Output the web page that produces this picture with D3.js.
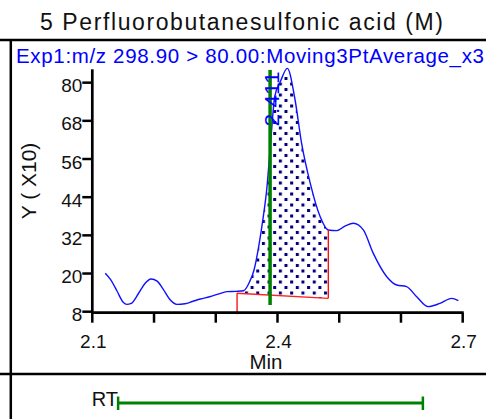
<!DOCTYPE html>
<html>
<head>
<meta charset="utf-8">
<script src="https://cdn.jsdelivr.net/npm/d3@7"></script>
<style>
  html, body { margin: 0; padding: 0; background: #fff; }
  svg { display: block; }
  text { font-family: "Liberation Sans", Arial, sans-serif; }
</style>
</head>
<body>
<svg id="chart" width="486" height="419"></svg>
<script>
// ---- data ----
const titleText = "5 Perfluorobutanesulfonic acid (M)";
const traceLabel = "Exp1:m/z 298.90 > 80.00:Moving3PtAverage_x3";
const yAxisTitle = "Y ( X10)";
const xAxisTitle = "Min";
const yTicks = [8, 20, 32, 44, 56, 68, 80];
const xTicks = [2.1, 2.2, 2.3, 2.4, 2.5, 2.6, 2.7];
const xTickLabels = ["2.1", "", "", "2.4", "", "", "2.7"];
const times = [2.121, 2.13, 2.14, 2.15, 2.156, 2.163, 2.175, 2.185, 2.195, 2.205,
  2.215, 2.225, 2.237, 2.25, 2.262, 2.275, 2.29, 2.305, 2.318, 2.333,
  2.345, 2.355, 2.362, 2.37, 2.377, 2.3825, 2.39, 2.3955, 2.405, 2.416,
  2.428, 2.439, 2.453, 2.469, 2.482, 2.496, 2.51, 2.523, 2.539, 2.555,
  2.577, 2.593, 2.609, 2.6255, 2.644, 2.663, 2.682, 2.693];
const intensity = [20.1, 18.0, 14.5, 11.0, 10.3, 10.6, 13.8, 16.8, 18.3, 17.6,
  15.0, 12.0, 10.3, 10.5, 11.2, 12.0, 12.7, 13.6, 14.3, 14.4,
  14.6, 17.5, 21.1, 29.0, 37.9, 46.3, 64.1, 75.6, 80.5, 84.5,
  75.1, 61.0, 48.4, 37.9, 33.7, 33.5, 35.0, 35.8, 33.7, 26.4,
  19.0, 16.4, 15.9, 12.7, 9.6, 10.6, 12.2, 11.5];
const peakStart = 2.3345, peakEnd = 2.4823;
const baselineValues = [13.8, 12.2];
const rtMarker = 2.388;
const rtMarkerLabel = "2.411";
const rtMarkerRange = [10.1, 84.0];
const rtWindow = [2.1418, 2.6355];
const rtLabel = "RT";

// ---- layout ----
const svg = d3.select("#chart");
const x = d3.scaleLinear().domain([2.1, 2.7]).range([92.3, 462.7]);
const y = d3.scaleLinear().domain([8, 84.2]).range([311.7, 69.3]);

// frame
svg.append("line").attr("x1", 0).attr("x2", 486).attr("y1", 40).attr("y2", 40)
  .attr("stroke", "#000").attr("stroke-width", 2.5);
svg.append("line").attr("x1", 0).attr("x2", 486).attr("y1", 374).attr("y2", 374)
  .attr("stroke", "#000").attr("stroke-width", 2.5);
svg.append("line").attr("x1", 10.8).attr("x2", 10.8).attr("y1", 39).attr("y2", 419)
  .attr("stroke", "#000").attr("stroke-width", 2.5);

// title
svg.append("text").attr("x", 40).attr("y", 29.5).attr("font-size", 23)
  .attr("textLength", 403).attr("lengthAdjust", "spacing")
  .attr("fill", "#111").text(titleText);
svg.append("text").attr("x", 16).attr("y", 63.3).attr("font-size", 20.5)
  .attr("textLength", 468).attr("lengthAdjust", "spacing")
  .attr("fill", "#0000ff").text(traceLabel);

// peak fill pattern
const defs = svg.append("defs");
const pat = defs.append("pattern").attr("id", "dots").attr("patternUnits", "userSpaceOnUse")
  .attr("width", 11.3).attr("height", 11).attr("x", 2).attr("y", 0);
pat.append("rect").attr("width", 11.3).attr("height", 11).attr("fill", "#fff");
pat.append("rect").attr("x", 0).attr("y", 0).attr("width", 3).attr("height", 3).attr("fill", "#000080");
pat.append("rect").attr("x", 5.65).attr("y", 5.5).attr("width", 3).attr("height", 3).attr("fill", "#000080");

const pts = times.map((t, i) => ({ t, v: intensity[i] }));
function interp(t) {
  for (let i = 0; i < pts.length - 1; i++) {
    if (t >= pts[i].t && t <= pts[i + 1].t) {
      const f = (t - pts[i].t) / (pts[i + 1].t - pts[i].t);
      return pts[i].v + f * (pts[i + 1].v - pts[i].v);
    }
  }
  return pts[pts.length - 1].v;
}
const baseAt = t => baselineValues[0] + (t - peakStart) / (peakEnd - peakStart) * (baselineValues[1] - baselineValues[0]);
const peakPts = [{ t: peakStart, v: interp(peakStart) }]
  .concat(pts.filter(p => p.t > peakStart && p.t < peakEnd))
  .concat([{ t: peakEnd, v: interp(peakEnd) }]);

svg.append("path").datum(peakPts)
  .attr("d", d3.area().x(d => x(d.t)).y0(d => y(Math.min(baseAt(d.t), d.v))).y1(d => y(d.v)).curve(d3.curveMonotoneX))
  .attr("fill", "url(#dots)");

// trace line
svg.append("path").datum(pts)
  .attr("d", d3.line().x(d => x(d.t)).y(d => y(d.v)).curve(d3.curveMonotoneX))
  .attr("fill", "none").attr("stroke", "#1010ff").attr("stroke-width", 1.4);

// baseline (red)
svg.append("line").attr("x1", x(peakStart)).attr("x2", x(peakEnd))
  .attr("y1", y(baselineValues[0])).attr("y2", y(baselineValues[1]))
  .attr("stroke", "#ff2020").attr("stroke-width", 1.3);
svg.append("line").attr("x1", x(peakStart)).attr("x2", x(peakStart))
  .attr("y1", y(baselineValues[0])).attr("y2", y(8) + 2.5)
  .attr("stroke", "#ff0000").attr("stroke-width", 1.3);
svg.append("line").attr("x1", x(peakEnd)).attr("x2", x(peakEnd))
  .attr("y1", y(baselineValues[1])).attr("y2", y(interp(peakEnd)))
  .attr("stroke", "#ff0000").attr("stroke-width", 1.3);

// RT marker
svg.append("line").attr("x1", x(rtMarker)).attr("x2", x(rtMarker))
  .attr("y1", y(rtMarkerRange[1])).attr("y2", y(rtMarkerRange[0]))
  .attr("stroke", "#008000").attr("stroke-width", 3.5);
svg.append("text").attr("transform", `translate(${x(rtMarker) + 8.5},126.5) rotate(-90)`)
  .attr("font-size", 20).attr("textLength", 55).attr("lengthAdjust", "spacingAndGlyphs")
  .attr("fill", "#0000ff").text(rtMarkerLabel);

// axes
const yAxisG = svg.append("g");
yAxisG.append("line").attr("x1", x(2.1)).attr("x2", x(2.1)).attr("y1", y.range()[1]).attr("y2", y(8) + 1)
  .attr("stroke", "#000").attr("stroke-width", 2.7);
yTicks.forEach(v => {
  yAxisG.append("line").attr("x1", x(2.1) - 10).attr("x2", x(2.1)).attr("y1", y(v)).attr("y2", y(v))
    .attr("stroke", "#000").attr("stroke-width", 2.5);
  yAxisG.append("text").attr("x", x(2.1) - 10).attr("y", y(v) + 9.5).attr("text-anchor", "end")
    .attr("font-size", 19).attr("fill", "#111").text(v);
});
const xAxisG = svg.append("g");
xAxisG.append("line").attr("x1", x(2.1) - 1).attr("x2", x(2.7) + 1).attr("y1", y(8) + 1).attr("y2", y(8) + 1)
  .attr("stroke", "#000").attr("stroke-width", 2.7);
xTicks.forEach((t, i) => {
  xAxisG.append("line").attr("x1", x(t)).attr("x2", x(t)).attr("y1", y(8) + 1).attr("y2", y(8) + 11)
    .attr("stroke", "#000").attr("stroke-width", 2.5);
  if (xTickLabels[i]) xAxisG.append("text").attr("x", x(t) + 1).attr("y", 348).attr("text-anchor", "middle")
    .attr("font-size", 19).attr("fill", "#111").text(xTickLabels[i]);
});
svg.append("text").attr("x", 266).attr("y", 369).attr("text-anchor", "middle")
  .attr("font-size", 20.5).attr("fill", "#111").text(xAxisTitle);
svg.append("text").attr("transform", "translate(36,181) rotate(-90)").attr("text-anchor", "middle")
  .attr("font-size", 21).attr("fill", "#111").text(yAxisTitle);

// RT window panel
svg.append("line").attr("x1", x(rtWindow[0])).attr("x2", x(rtWindow[1])).attr("y1", 403).attr("y2", 403)
  .attr("stroke", "#008000").attr("stroke-width", 3);
rtWindow.forEach(t => svg.append("line").attr("x1", x(t)).attr("x2", x(t)).attr("y1", 396.5).attr("y2", 410)
  .attr("stroke", "#008000").attr("stroke-width", 2.5));
svg.append("text").attr("x", x(rtWindow[0])).attr("y", 406).attr("text-anchor", "end")
  .attr("font-size", 20).attr("fill", "#111").text(rtLabel);
</script>
</body>
</html>
